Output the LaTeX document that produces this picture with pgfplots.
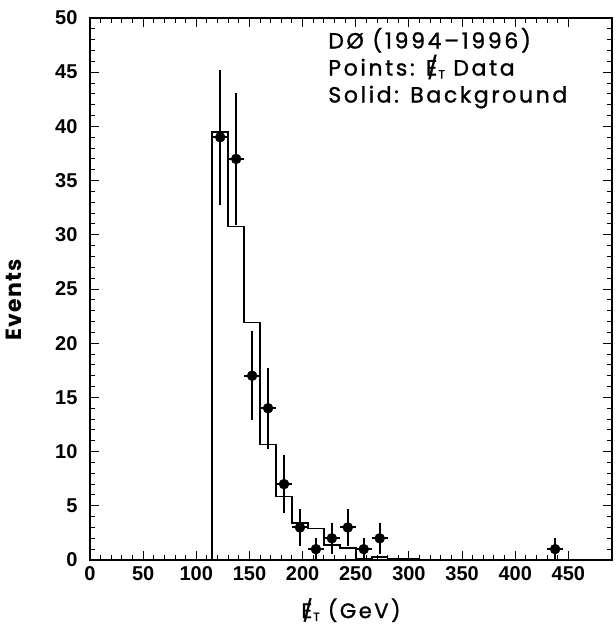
\documentclass[border=0pt]{standalone}
\usepackage{pgfplots}
\pgfplotsset{compat=1.18}
\usepackage{fontspec}
\setmainfont{Liberation Sans}
\newfontfamily\higz[LetterSpace=6]{Poppins}
\newfontfamily\higzt[LetterSpace=12, FakeBold=1.2]{Poppins}
\newcommand\met{\ooalign{E\cr\hidewidth\kern0.08em/\hidewidth}\kern0.05em\raisebox{-0.25ex}{\fontsize{12}{12}\selectfont T}}
\begin{document}
\begin{tikzpicture}
\path[use as bounding box] (-90pt,-65pt) rectangle (526pt,560pt);
\begin{axis}[
  scale only axis, width=522pt, height=542pt,
  xmin=0, xmax=491, ymin=0, ymax=50,
  xtick={0,50,...,450}, ytick={0,5,...,50},
  minor x tick num=4, minor y tick num=4,
  tick align=inside,
  major tick length=9pt, minor tick length=5pt,
  axis line style={line width=1.3pt},
  every tick/.style={line width=1pt, black},
  /pgf/number format/assume math mode=true,
  ticklabel style={font=\bfseries\fontsize{20}{24}\selectfont},
  xticklabel style={yshift=-3pt},
  yticklabel style={xshift=-9pt},
  xlabel={\met\ (GeV)},
  ylabel={Events},
  xlabel style={at={(axis description cs:0.5,-0.0645)}, anchor=north, font=\higzt\fontsize{21}{24}\selectfont},
  ylabel style={at={(axis description cs:-0.124,0.48)}, anchor=south, font=\higz\bfseries\fontsize{22}{24}\selectfont},
  clip=false,
]
\addplot[const plot, line width=1.6pt, black] coordinates {
(115,0) (115,39.5) (130,30.75) (145,21.9) (160,10.67) (175,5.84) (190,3.44)
(205,2.89) (220,1.38) (235,1.08) (250,0.1) (265,0.3) (280,0.1) (295,0.1)
(310,0.05) (325,0.05) (340,0) (400,0) (400,0.05) (415,0.05) (430,0)
};
\addplot[only marks, mark=*, mark size=5pt, black,
  error bars/.cd, x dir=both, x explicit, y dir=both, y explicit,
  error mark=none, error bar style={line width=2pt}]
  table[x=x, y=y, x error=ex, y error=ey] {
x y ex ey
122.5 39 7.5 6.24
137.5 37 7.5 6.08
152.5 17 7.5 4.12
167.5 14 7.5 3.74
182.5 7 7.5 2.65
197.5 3 7.5 1.73
212.5 1 7.5 1
227.5 2 7.5 1.41
242.5 3 7.5 1.73
257.5 1 7.5 1
272.5 2 7.5 1.41
437.5 1 7.5 1
};
\node[anchor=north west, align=left, inner sep=0pt,
  font=\higzt\fontsize{22}{27}\selectfont]
  at (axis cs:224,49.1) {DØ (1994–1996)\\Points: \met\ Data\\Solid: Background};
\end{axis}
\end{tikzpicture}
\end{document}
